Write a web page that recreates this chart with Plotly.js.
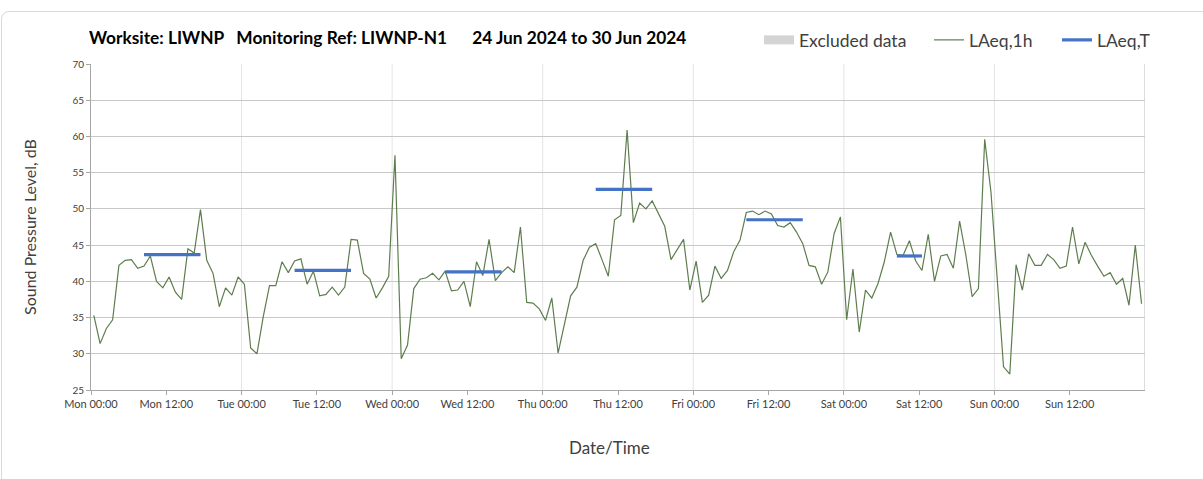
<!DOCTYPE html>
<html><head><meta charset="utf-8">
<script src="https://cdn.plot.ly/plotly-3.0.1.min.js"></script>
<style>
html,body{margin:0;padding:0;background:#fff;overflow:hidden}
#frame{position:absolute;left:1px;top:11px;width:1300px;height:600px;border:1px solid #d9d9d9;border-radius:8px;box-sizing:border-box;pointer-events:none}
#chart{position:absolute;left:0;top:0;width:1203px;height:479px}
</style></head><body>
<div id="chart"></div><div id="frame"></div>
<script>
// Hourly LAeq,1h values, Mon 24 Jun 2024 00:00 onwards (one per hour)
const laeq1h = [
 35.3,31.4,33.5,34.7,42.2,42.9,43.0,41.8,42.1,43.5,40.0,39.1,40.6,38.5,37.5,44.5,43.9,49.9,42.9,41.1,36.5,39.1,38.1,40.6,
 39.6,30.8,30.0,35.1,39.4,39.4,42.7,41.2,42.8,43.1,39.6,41.4,38.0,38.2,39.2,38.1,39.2,45.8,45.7,41.1,40.3,37.7,39.1,40.7,
 57.4,29.3,31.2,39.0,40.3,40.5,41.1,40.2,41.4,38.7,38.8,40.0,36.5,42.7,40.8,45.8,40.1,41.2,42.0,41.2,47.5,37.1,37.0,36.2,
 34.6,37.7,30.1,33.9,38.0,39.2,42.9,44.7,45.2,43.0,40.7,48.5,49.1,60.9,48.1,50.8,50.0,51.1,49.4,47.6,43.0,44.5,45.8,38.8,
 42.8,37.1,38.1,42.1,40.4,41.5,44.1,45.7,49.5,49.7,49.2,49.7,49.3,47.7,47.5,48.1,46.8,45.2,42.2,42.0,39.6,41.3,46.6,48.9,
 34.7,41.7,33.0,38.8,37.7,39.7,42.7,46.8,43.7,43.6,45.6,42.8,41.5,46.5,40.0,43.5,43.7,41.8,48.3,43.6,37.9,39.0,59.6,52.3,
 40.0,28.2,27.2,42.3,38.8,43.8,42.2,42.2,43.7,43.0,41.8,42.1,47.5,42.4,45.4,43.6,42.1,40.7,41.2,39.6,40.4,36.7,45.0,36.9
];
// LAeq,T periods: start hour, end hour (hours from Mon 00:00), level
const segStartHour = [8, 32, 56, 80, 104, 128];
const segEndHour   = [17, 41, 65, 89, 113, 132];
const segLevel     = [43.7, 41.5, 41.3, 52.7, 48.5, 43.5];
const yTicks = [25,30,35,40,45,50,55,60,65,70];
const xTickHours = [0,12,24,36,48,60,72,84,96,108,120,132,144,156];

const T0 = Date.UTC(2024,5,24);
const OFF = 0.45;
function hs(h){ return new Date(T0 + h*3600000).toISOString().replace('T',' ').slice(0,19); }

const xs = laeq1h.map((v,i)=>hs(i+OFF));
const segX = [], segY = [];
segStartHour.forEach((s,k)=>{ segX.push(hs(s+OFF), hs(segEndHour[k]+OFF), null); segY.push(segLevel[k], segLevel[k], null); });

const traces = [
 {type:'scatter', mode:'lines', name:'Excluded data', legend:'legend', x:[null], y:[null], line:{color:'#d4d4d4', width:9}, hoverinfo:'skip'},
 {type:'scatter', mode:'lines', name:'LAeq,1h', legend:'legend2', x:xs, y:laeq1h, line:{color:'#5e7d4e', width:1.2}},
 {type:'scatter', mode:'lines', name:'LAeq,T', legend:'legend3', x:segX, y:segY, connectgaps:false, line:{color:'#4472c4', width:3.2}}
];

const shapes = [];
for(let d=1; d<=7; d++){
  shapes.push({type:'line', xref:'x', yref:'paper', x0:hs(24*d), x1:hs(24*d), y0:0, y1:1, layer:'below',
    line:{color: d===7 ? '#b8b8b8' : '#e4e4e4', width:1}});
}

const legBase = {orientation:'h', xref:'container', xanchor:'left', yref:'container', y:1-40/479, yanchor:'middle',
  font:{size:17.5, color:'#404040', family:'Lato, sans-serif'}, bgcolor:'rgba(0,0,0,0)', borderwidth:0};

const layout = {
  width:1203, height:479,
  margin:{l:91, r:58, t:64, b:89},
  paper_bgcolor:'rgba(0,0,0,0)', plot_bgcolor:'#fff',
  font:{family:'Lato, sans-serif', color:'#404040'},
  title:{text:'<b>Worksite: LIWNP\u00A0\u00A0\u00A0Monitoring Ref: LIWNP-N1\u00A0\u00A0\u00A0\u00A0\u00A0 24 Jun 2024 to 30 Jun 2024</b>',
    x:89/1203, xref:'container', xanchor:'left', y:1-38/479, yref:'container', yanchor:'middle',
    font:{size:17.3, color:'#000', family:'Lato, sans-serif'}},
  showlegend:true,
  legend:Object.assign({}, legBase, {x:759/1203}),
  legend2:Object.assign({}, legBase, {x:929/1203}),
  legend3:Object.assign({}, legBase, {x:1057/1203}),
  xaxis:{type:'date', range:[hs(0), hs(168)], tickvals:xTickHours.map(hs), tickformat:'%a %H:%M',
    showgrid:false, zeroline:false, showline:true, linecolor:'#a6a6a6', linewidth:1,
    ticks:'outside', ticklen:4, tickcolor:'#a6a6a6', tickfont:{size:11, color:'#404040'}},
  yaxis:{range:[25,70], tickvals:yTicks, ticktext:yTicks.map(String), showgrid:true, gridcolor:'#c8c8c8', gridwidth:1,
    zeroline:false, showline:true, linecolor:'#a6a6a6', linewidth:1, ticks:'outside', ticklen:4, tickcolor:'#a6a6a6',
    tickfont:{size:10, color:'#404040'},
    title:{text:'Sound Pressure Level, dB', font:{size:16, color:'#404040'}, standoff:31}},
  annotations:[{text:'Date/Time', xref:'paper', yref:'paper', x:(609-91)/1054, y:(390-447)/326, xanchor:'center', yanchor:'middle',
    showarrow:false, font:{size:17, color:'#404040', family:'Lato, sans-serif'}}],
  shapes:shapes
};
Plotly.newPlot('chart', traces, layout, {displayModeBar:false, staticPlot:true});
</script></body></html>
